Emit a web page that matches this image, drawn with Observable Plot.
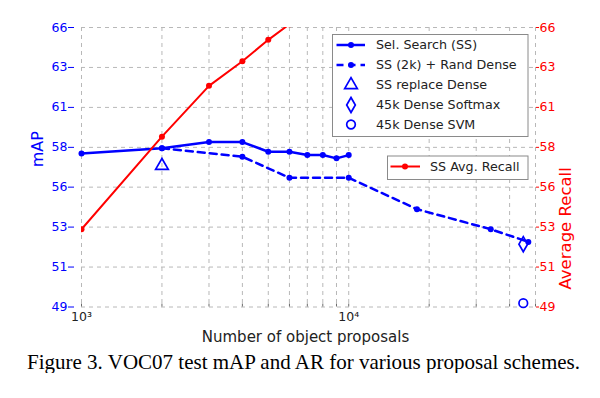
<!DOCTYPE html>
<html><head><meta charset="utf-8">
<script src="https://cdn.jsdelivr.net/npm/d3@7"></script>
<script src="https://cdn.jsdelivr.net/npm/@observablehq/plot@0.6"></script>
<style>
body{margin:0;background:#fff;}
#wrap{width:600px;}
#wrap svg{display:block;}
#cap{width:600px;font-family:"Liberation Serif","Times New Roman",serif;font-size:21px;line-height:21px;color:#000;text-align:center;margin-top:2.4px;padding-left:7px;box-sizing:border-box;white-space:nowrap;}
</style></head><body>
<div id="wrap"></div>
<div id="cap">Figure 3. VOC07 test mAP and AR for various proposal schemes.</div>
<script>
// ---- data ----
const ssProposals = [1000, 2000, 3000, 4000, 5000, 6000, 7000, 8000, 9000, 10000];
const ssMAP = [58.34, 58.65, 59.03, 59.03, 58.44, 58.44, 58.24, 58.24, 58.04, 58.24];
const randProposals = [2000, 4000, 6000, 10000, 18000, 34000, 47000];
const randMAP = [58.65, 58.14, 56.86, 56.86, 54.95, 53.73, 52.96];
const replaceProposals = [2000];
const replaceMAP = [57.59];
const softmaxProposals = [45000];
const softmaxMAP = [52.82];
const svmProposals = [45000];
const svmMAP = [49.23];
const recallProposals = [1000, 2000, 3000, 4000, 5000, 6000];
const avgRecall = [53.73, 59.36, 62.45, 63.95, 65.25, 66.2];

const xDomain = [1000, 50000];
const yDomain = [49, 66];
const xMajorTicks = [1000, 10000];
const xMajorLabels = ["10³", "10⁴"];
const xGridTicks = [1000, 2000, 3000, 4000, 5000, 6000, 7000, 8000, 9000, 10000, 20000, 30000, 40000, 50000];
const yTickValues = [49, 51.43, 53.86, 56.29, 58.71, 61.14, 63.57, 66];
const yTickLabels = ["49", "51", "53", "56", "58", "61", "63", "66"];

const legend1Labels = ["Sel. Search (SS)", "SS (2k) + Rand Dense", "SS replace Dense", "45k Dense Softmax", "45k Dense SVM"];
const legend2Labels = ["SS Avg. Recall"];

const zip = (xs, ys) => xs.map((x, i) => ({x, y: ys[i]}));
const ss = zip(ssProposals, ssMAP);
const rand = zip(randProposals, randMAP);
const repl = zip(replaceProposals, replaceMAP);
const soft = zip(softmaxProposals, softmaxMAP);
const svm = zip(svmProposals, svmMAP);
const rec = zip(recallProposals, avgRecall);

const BLUE = "#0000ff", RED = "#ff0000";
const FONT = "DejaVu Sans, sans-serif";
const LFS = 12.7;

function symbolPath(type, r) {
  const t = {triangle: d3.symbolTriangle, diamond: d3.symbolDiamond, circle: d3.symbolCircle}[type];
  return d3.symbol(t, Math.PI * r * r)();
}

function legend1(index, scales, values, dims) {
  const g = d3.create("svg:g").attr("font-family", FONT).attr("font-size", LFS).attr("text-anchor", "start");
  g.append("rect").attr("x", 332.5).attr("y", 34.5).attr("width", 195.5).attr("height", 102)
    .attr("fill", "white").attr("stroke", "#8a8a8a").attr("stroke-width", 1);
  const rows = [45, 65, 85, 105, 124.5];
  const kinds = ["solid", "dashed", "triangle", "diamond", "circle"];
  const radii = {triangle: 4.7, diamond: 4.55, circle: 4.3};
  rows.forEach((y, i) => {
    const k = kinds[i];
    if (k === "solid" || k === "dashed") {
      g.append("line").attr("x1", 336.5).attr("x2", 365).attr("y1", y).attr("y2", y)
        .attr("stroke", BLUE).attr("stroke-width", 2.5)
        .attr("stroke-dasharray", k === "dashed" ? "7,5" : null);
      g.append("circle").attr("cx", 351).attr("cy", y).attr("r", 3).attr("fill", BLUE);
    } else {
      g.append("path").attr("d", symbolPath(k, radii[k])).attr("transform", `translate(351,${y})`)
        .attr("fill", "none").attr("stroke", BLUE).attr("stroke-width", 1.7);
    }
    g.append("text").attr("x", 376).attr("y", y).attr("dy", "0.35em").attr("text-anchor", "start")
      .attr("fill", "#222").text(legend1Labels[i]);
  });
  return g.node();
}

function legend2(index, scales, values, dims) {
  const g = d3.create("svg:g").attr("font-family", FONT).attr("font-size", LFS).attr("text-anchor", "start");
  g.append("rect").attr("x", 387.5).attr("y", 156).attr("width", 140.5).attr("height", 23.5)
    .attr("fill", "white").attr("stroke", "#8a8a8a").attr("stroke-width", 1);
  const y = 166.5;
  g.append("line").attr("x1", 390.5).attr("x2", 420).attr("y1", y).attr("y2", y)
    .attr("stroke", RED).attr("stroke-width", 2);
  g.append("circle").attr("cx", 405).attr("cy", y).attr("r", 3).attr("fill", RED);
  g.append("text").attr("x", 430).attr("y", y).attr("dy", "0.35em").attr("text-anchor", "start")
    .attr("fill", "#222").text(legend2Labels[0]);
  return g.node();
}

const gridStyle = {stroke: "#b8b8b8", strokeOpacity: 1, strokeWidth: 1, strokeDasharray: "4,4"};

const chart = Plot.plot({
  width: 600, height: 350,
  marginLeft: 81, marginRight: 65, marginTop: 27, marginBottom: 43.5,
  style: {fontFamily: FONT, fontSize: "12px", background: "white", color: "#222"},
  x: {type: "log", domain: xDomain},
  y: {domain: yDomain},
  marks: [
    Plot.gridX(xGridTicks, gridStyle),
    Plot.gridY(yTickValues, gridStyle),
    Plot.ruleX(xGridTicks, {x: d => d, y1: yDomain[0], y2: yDomain[0], insetBottom: 3, stroke: "#444", strokeWidth: 0.8}),
    Plot.axisX(xMajorTicks, {anchor: "bottom", tickSize: 0, tickPadding: 5.5, fontSize: 12.5,
      tickFormat: d => xMajorLabels[xMajorTicks.indexOf(d)], fill: "#222", label: null}),
    Plot.axisY(yTickValues, {anchor: "left", tickSize: 6, tickPadding: 1, dx: -7, fontSize: 12.5,
      tickFormat: d => yTickLabels[yTickValues.indexOf(d)], color: BLUE, label: null}),
    Plot.axisY(yTickValues, {anchor: "right", tickSize: 3, tickPadding: 1, fontSize: 12.5,
      tickFormat: d => yTickLabels[yTickValues.indexOf(d)], color: RED, label: null}),
    Plot.text(["mAP"], {text: d => d, frameAnchor: "left", rotate: -90, dx: -43.5, fill: BLUE, fontSize: 16}),
    Plot.text(["Average Recall"], {text: d => d, frameAnchor: "right", rotate: -90, dx: 30, fill: RED, fontSize: 16.5}),
    Plot.text(["Number of object proposals"], {text: d => d, frameAnchor: "bottom", dx: -3, dy: 30.5, fill: "#222", fontSize: 15, lineAnchor: "middle"}),
    Plot.line(ss, {x: "x", y: "y", stroke: BLUE, strokeWidth: 2.5}),
    Plot.dot(ss, {x: "x", y: "y", r: 3, fill: BLUE}),
    Plot.line(rand, {x: "x", y: "y", stroke: BLUE, strokeWidth: 2.5, strokeDasharray: "7,5"}),
    Plot.dot(rand, {x: "x", y: "y", r: 3, fill: BLUE}),
    Plot.dot(repl, {x: "x", y: "y", symbol: "triangle", r: 4.7, stroke: BLUE, strokeWidth: 1.7, fill: "none"}),
    Plot.dot(soft, {x: "x", y: "y", symbol: "diamond", r: 4.55, stroke: BLUE, strokeWidth: 1.7, fill: "none"}),
    Plot.dot(svm, {x: "x", y: "y", symbol: "circle", r: 4.3, stroke: BLUE, strokeWidth: 1.7, fill: "none"}),
    Plot.line(rec, {x: "x", y: "y", stroke: RED, strokeWidth: 2, clip: true}),
    Plot.dot(rec, {x: "x", y: "y", r: 3, fill: RED, clip: true}),
    legend1,
    legend2
  ]
});
document.getElementById("wrap").appendChild(chart);
</script>
</body></html>
